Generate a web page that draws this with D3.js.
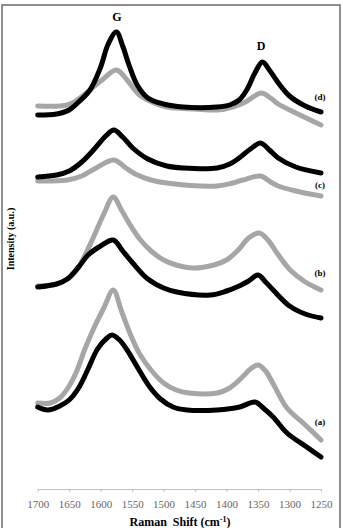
<!DOCTYPE html>
<html>
<head>
<meta charset="utf-8">
<script src="https://cdn.jsdelivr.net/npm/d3@7"></script>
<style>
  html, body { margin: 0; padding: 0; background: #fff; }
  svg { display: block; font-family: "Liberation Serif", "DejaVu Serif", serif; }
</style>
</head>
<body>
<div id="chart"></div>
<script>
// Raman spectra, wavenumber (cm-1) vs offset intensity (a.u.)
const xTicks = [1700, 1650, 1600, 1550, 1500, 1450, 1400, 1350, 1300, 1250];

const dBlack = [[1700,374],[1670,375],[1650,379],[1635,387],[1617,399],[1600,422],[1588,445],[1575,457],[1565,443],[1555,424],[1542,404],[1525,391],[1500,385],[1469,382],[1415,382],[1395,384],[1380,389],[1368,399],[1355,416],[1343,427],[1332,419],[1320,408],[1300,393],[1275,383],[1250,377]];
const dGray = [[1700,383],[1653,384],[1635,390],[1617,399],[1596,410],[1575,419],[1558,409],[1540,395],[1515,386],[1495,382],[1450,380],[1415,379],[1390,382],[1370,387],[1345,396],[1330,391],[1318,385],[1290,376],[1250,364]];
const cBlack = [[1700,312],[1670,314],[1650,318],[1630,327],[1610,340],[1592,353],[1579,359],[1565,352],[1549,341],[1525,330],[1495,323],[1469,321],[1415,321],[1395,325],[1378,332],[1362,340],[1346,346],[1332,339],[1318,331],[1290,322],[1250,316]];
const cGray = [[1700,308],[1653,309],[1630,313],[1610,320],[1579,329],[1560,321],[1545,315],[1520,309],[1495,306],[1415,303],[1390,306],[1374,309],[1346,313],[1330,307],[1318,303],[1290,298],[1250,293]];
const bGray = [[1700,203],[1670,205],[1650,211],[1635,222],[1612,251],[1595,275],[1580,292],[1567,279],[1555,266],[1538,250],[1520,238],[1500,229],[1480,224],[1453,221],[1420,224],[1400,229],[1380,240],[1365,251],[1348,256],[1333,248],[1320,236],[1299,219],[1275,207],[1250,199]];
const bBlack = [[1700,202],[1670,205],[1653,210],[1635,222],[1620,234],[1600,243],[1580,249],[1565,238],[1549,226],[1525,210],[1500,201],[1479,197],[1426,194],[1400,198],[1380,203],[1365,208],[1350,214],[1338,207],[1326,199],[1300,183],[1275,175],[1250,171]];
const aGray = [[1700,86],[1680,86],[1665,91],[1650,103],[1638,118],[1625,140],[1610,162],[1595,181],[1580,199],[1567,178],[1553,155],[1538,135],[1520,119],[1500,106],[1480,99],[1460,96],[1415,96],[1395,101],[1378,110],[1362,120],[1350,124],[1338,118],[1325,104],[1304,81],[1275,64],[1250,49]];
const aBlack = [[1700,82],[1684,79],[1665,83],[1650,89],[1635,101],[1620,120],[1605,140],[1590,151],[1582,154],[1570,149],[1558,139],[1540,120],[1522,102],[1505,90],[1485,82],[1463,79],[1415,79],[1379,82],[1355,87],[1340,80],[1326,72],[1304,56],[1275,43],[1250,32]];

const series = [
  { data: dGray, color: '#a6a6a6' },
  { data: dBlack, color: '#000' },
  { data: cGray, color: '#a6a6a6' },
  { data: cBlack, color: '#000' },
  { data: bGray, color: '#a6a6a6' },
  { data: bBlack, color: '#000' },
  { data: aGray, color: '#a6a6a6' },
  { data: aBlack, color: '#000' }
];

const peakLabels = [{ text: 'G', wn: 1574, y: 17 }, { text: 'D', wn: 1345, y: 46 }];
const sampleLabels = [
  { text: '(d)', y: 97 }, { text: '(c)', y: 185 }, { text: '(b)', y: 273 }, { text: '(a)', y: 422 }
];

const width = 343, height = 528;
const svg = d3.select('#chart').append('svg')
  .attr('width', width)
  .attr('height', height);

// outer frame
svg.append('rect')
  .attr('x', 2).attr('y', 5)
  .attr('width', 338).attr('height', 540)
  .attr('fill', 'none')
  .attr('stroke', '#6b6b6b')
  .attr('stroke-width', 1.5);

const x = d3.scaleLinear().domain([1700, 1250]).range([37.7, 321]);
const y = d3.scaleLinear().domain([0, 470]).range([489, 19]);

// x axis
const axisG = svg.append('g').attr('transform', 'translate(0,489)');
axisG.call(d3.axisBottom(x).tickValues(xTicks).tickSize(3).tickSizeOuter(0).tickFormat(d3.format('d')));
axisG.select('.domain').attr('stroke', '#bfbfbf');
axisG.selectAll('.tick line').attr('stroke', '#bfbfbf');
axisG.selectAll('.tick text')
  .attr('fill', '#666')
  .attr('y', 11)
  .style('font-family', '"Liberation Serif", serif')
  .style('font-size', '11px');

// axis titles
const xt = svg.append('text')
  .attr('x', 180).attr('y', 526)
  .attr('text-anchor', 'middle')
  .style('font-weight', 'bold')
  .style('font-size', '12px')
  .attr('xml:space', 'preserve');
xt.append('tspan').text('Raman  Shift (cm');
xt.append('tspan').attr('dy', -4).style('font-size', '8px').text('-1');
xt.append('tspan').attr('dy', 4).text(')');

svg.append('text')
  .attr('transform', 'translate(14,239) rotate(-90)')
  .attr('text-anchor', 'middle')
  .style('font-weight', 'bold')
  .style('font-size', '10px')
  .text('Intensity (a.u.)');

// spectra
const line = d3.line()
  .x(d => x(d[0]))
  .y(d => y(d[1]))
  .curve(d3.curveCatmullRom.alpha(0.5));

svg.selectAll('.spec')
  .data(series)
  .enter()
  .append('path')
  .attr('class', 'spec')
  .attr('d', d => line(d.data))
  .attr('fill', 'none')
  .attr('stroke', d => d.color)
  .attr('stroke-width', 5)
  .attr('stroke-linecap', 'round')
  .attr('stroke-linejoin', 'round');

// peak and sample labels
svg.selectAll('.peak')
  .data(peakLabels)
  .enter()
  .append('text')
  .attr('x', d => x(d.wn))
  .attr('y', d => d.y + 4)
  .attr('text-anchor', 'middle')
  .style('font-weight', 'bold')
  .style('font-size', '12px')
  .text(d => d.text);

svg.selectAll('.sample')
  .data(sampleLabels)
  .enter()
  .append('text')
  .attr('x', 320)
  .attr('y', d => d.y + 3)
  .attr('text-anchor', 'middle')
  .style('font-weight', 'bold')
  .style('font-size', '9px')
  .text(d => d.text);
</script>
</body>
</html>
